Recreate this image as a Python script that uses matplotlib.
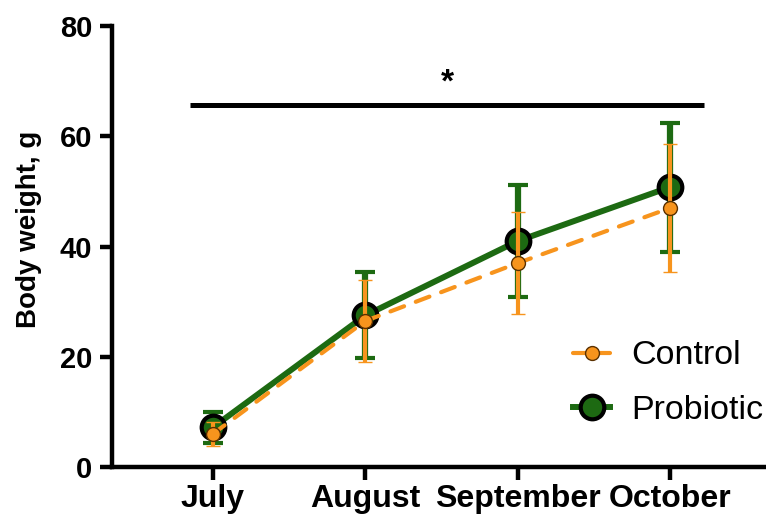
import matplotlib
matplotlib.use("Agg")
import matplotlib.pyplot as plt

plt.rcParams['font.family'] = ['Liberation Sans', 'DejaVu Sans']

months = ["July", "August", "September", "October"]
probiotic_mean = [7.2, 27.5, 41.0, 50.8]
probiotic_sd = [2.8, 7.8, 10.1, 11.7]
control_mean = [6.0, 26.5, 37.0, 47.0]
control_sd = [2.2, 7.5, 9.3, 11.6]
sig_label = "*"
sig_level = 65.7

GREEN = "#1D6A12"
ORANGE = "#F7941D"

fig = plt.figure(figsize=(7.66, 5.23), dpi=100)
ax = fig.add_axes([0.146, 0.107, 0.854, 0.843])

x = list(range(len(months)))

# probiotic group underneath, thick solid line with big markers
prob = ax.errorbar(x, probiotic_mean, yerr=probiotic_sd, color=GREEN, lw=4.3,
                   marker="o", ms=17, mfc=GREEN, mec="black", mew=3,
                   ecolor=GREEN, elinewidth=4.5, capsize=7.5, capthick=4,
                   zorder=2)

# control group on top, dashed orange
ctrl = ax.errorbar(x, control_mean, yerr=control_sd, color=ORANGE, lw=3,
                   ls=(0, (3.5, 3)), dash_capstyle="round",
                   marker="o", ms=10, mfc=ORANGE, mec="#5a3000", mew=1,
                   ecolor=ORANGE, elinewidth=3, capsize=5, capthick=3,
                   zorder=3)

# significance bar across all months
ax.plot([-0.15, 3.22], [sig_level, sig_level], color="black", lw=3.6,
        solid_capstyle="butt", clip_on=False)
ax.text(1.54, sig_level + 1.2, sig_label, ha="center", va="bottom",
        fontsize=24, fontweight="bold")

ax.set_xlim(-0.663, 3.63)
ax.set_ylim(0, 80)
ax.set_yticks([0, 20, 40, 60, 80])
ax.set_xticks(x)
ax.set_xticklabels(months)

for side in ["top", "right"]:
    ax.spines[side].set_visible(False)
for side in ["left", "bottom"]:
    ax.spines[side].set_linewidth(3.2)

ax.tick_params(axis="both", length=9, width=3.2)
ax.tick_params(axis="y", labelsize=21, pad=5)
ax.tick_params(axis="x", labelsize=23, pad=3)
for lbl in ax.get_xticklabels() + ax.get_yticklabels():
    lbl.set_fontweight("bold")

ax.set_ylabel("Body weight, g", fontsize=20, fontweight="bold")
ax.yaxis.set_label_coords(-0.107, 0.54)

ax.legend([ctrl[0], prob[0]], ["Control", "Probiotic"], frameon=False,
          fontsize=24.5, loc="center left", bbox_to_anchor=(0.748, 0.267),
          bbox_transform=fig.transFigure, borderpad=0, borderaxespad=0,
          handlelength=1.1, handletextpad=0.6, labelspacing=0.7)

fig.savefig("out.png", dpi=100)
